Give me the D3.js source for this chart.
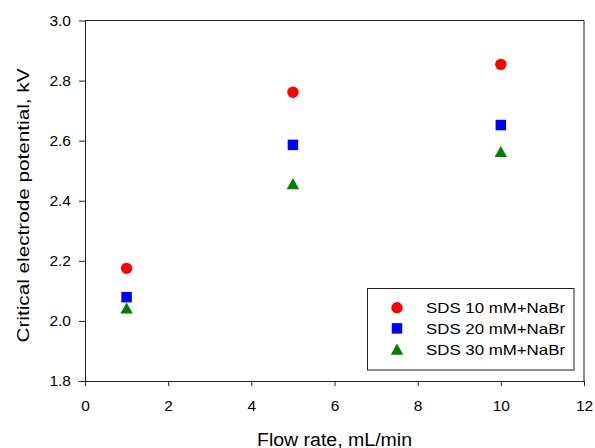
<!DOCTYPE html>
<html>
<head>
<meta charset="utf-8">
<script src="https://cdn.jsdelivr.net/npm/d3@7"></script>
<style>
  html, body { margin: 0; padding: 0; background: #fff; }
  svg { display: block; font-family: "Liberation Sans", Arial, sans-serif; }
</style>
</head>
<body>
<svg id="chart" width="595" height="448"></svg>
<script>
// ---- data ----
const flowRates = [1, 5, 10];
const seriesNames = ["SDS 10 mM+NaBr", "SDS 20 mM+NaBr", "SDS 30 mM+NaBr"];
const sds10 = [2.175, 2.761, 2.854];
const sds20 = [2.079, 2.586, 2.652];
const sds30 = [2.043, 2.457, 2.564];
const xTicks = [0, 2, 4, 6, 8, 10, 12];
const yTicks = [1.8, 2.0, 2.2, 2.4, 2.6, 2.8, 3.0];
const xLabel = "Flow rate, mL/min";
const yLabel = "Critical electrode potential, kV";

// ---- layout ----
const W = 595, H = 448;
const m = { left: 85, right: 584, top: 20.5, bottom: 381 };
const svg = d3.select("#chart");

const x = d3.scaleLinear().domain([0, 12]).range([m.left, m.right]);
const y = d3.scaleLinear().domain([1.8, 3.0]).range([m.bottom, m.top]);

// symbol types
const circleType = { draw(ctx, size) { const r = Math.sqrt(size / Math.PI); ctx.moveTo(r, 0); ctx.arc(0, 0, r, 0, 2 * Math.PI); } };
const squareType = { draw(ctx, size) { const s = Math.sqrt(size); ctx.rect(-s / 2, -s / 2, s, s); } };
const triType = { draw(ctx, size) { const s = Math.sqrt(size); const h = s * 0.9; ctx.moveTo(0, -h / 2); ctx.lineTo(s / 2, h / 2); ctx.lineTo(-s / 2, h / 2); ctx.closePath(); } };

const series = [
  { name: seriesNames[0], values: sds10, color: "#ff0000", type: circleType, size: Math.PI * 5.7 * 5.7 },
  { name: seriesNames[1], values: sds20, color: "#0000ff", type: squareType, size: 10.5 * 10.5 },
  { name: seriesNames[2], values: sds30, color: "#008000", type: triType, size: 12.4 * 12.4 }
];

// frame (top & right)
svg.append("line").attr("x1", m.left).attr("x2", m.right).attr("y1", m.top).attr("y2", m.top)
  .attr("stroke", "#222").attr("stroke-width", 1);
svg.append("line").attr("x1", m.right).attr("x2", m.right).attr("y1", m.top).attr("y2", m.bottom)
  .attr("stroke", "#222").attr("stroke-width", 1);

// axes
const xAxis = svg.append("g").attr("transform", `translate(0,${m.bottom})`)
  .call(d3.axisBottom(x).tickValues(xTicks).tickFormat(d3.format("d")).tickSize(5).tickPadding(14).tickSizeOuter(0));
const yAxis = svg.append("g").attr("transform", `translate(${m.left},0)`)
  .call(d3.axisLeft(y).tickValues(yTicks).tickFormat(d3.format(".1f")).tickSize(6).tickPadding(8).tickSizeOuter(0));

[xAxis, yAxis].forEach(g => {
  g.select(".domain").attr("stroke", "#222").attr("stroke-width", 1);
  g.selectAll(".tick line").attr("stroke", "#222");
  g.selectAll(".tick text").attr("fill", "#000").style("font-size", "15.5px")
    .style("font-family", '"Liberation Sans", Arial, sans-serif');
});
xAxis.selectAll(".tick text").attr("dy", "0.71em");

// axis titles
svg.append("text").attr("x", (m.left + m.right) / 2).attr("y", 445.5)
  .attr("text-anchor", "middle").style("font-size", "18px")
  .attr("textLength", 155).attr("lengthAdjust", "spacingAndGlyphs")
  .text(xLabel);
svg.append("text").attr("transform", `translate(28.5,205.5) rotate(-90)`)
  .attr("text-anchor", "middle").style("font-size", "17px")
  .attr("textLength", 274).attr("lengthAdjust", "spacingAndGlyphs")
  .text(yLabel);

// points
series.forEach(s => {
  const sym = d3.symbol().type(s.type).size(s.size);
  svg.append("g").selectAll("path").data(s.values).join("path")
    .attr("transform", (d, i) => `translate(${x(flowRates[i])},${y(d)})`)
    .attr("d", sym)
    .attr("fill", s.color);
});

// legend
const lg = svg.append("g");
lg.append("rect").attr("x", 367.5).attr("y", 288.5).attr("width", 206.5).attr("height", 81.5)
  .attr("fill", "#fff").attr("stroke", "#222").attr("stroke-width", 1);
series.forEach((s, i) => {
  const cy = 307.7 + i * 20.7;
  lg.append("path").attr("transform", `translate(397,${cy})`)
    .attr("d", d3.symbol().type(s.type).size(s.size)).attr("fill", s.color);
  lg.append("text").attr("x", 426).attr("y", cy + 5.5)
    .style("font-size", "15px")
    .attr("textLength", 139).attr("lengthAdjust", "spacingAndGlyphs")
    .text(s.name);
});
</script>
</body>
</html>
